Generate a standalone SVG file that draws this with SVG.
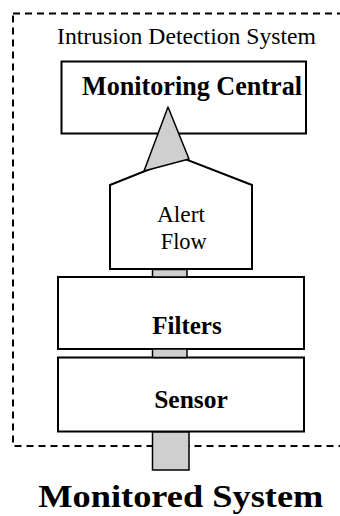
<svg xmlns="http://www.w3.org/2000/svg" width="340" height="516" viewBox="0 0 340 516">
<defs>
<style>
.box{fill:#fff;stroke:#000;stroke-width:2}
.link{fill:#cfcfcf;stroke:#000;stroke-width:1.5}
text{fill:#000;font-style:normal}
.reg{font-family:"Times New Roman","Liberation Serif","DejaVu Serif",serif;font-weight:400}
.bold{font-family:"Liberation Serif","Times New Roman","DejaVu Serif",serif;font-weight:700}
</style>
</defs>
<rect x="0" y="0" width="340" height="516" fill="#fff"/>
<g id="ids-boundary">
<rect x="13" y="13.5" width="340" height="432.5" fill="none" stroke="#000" stroke-width="2" stroke-dasharray="7 5"/>
<text class="reg" x="57" y="44.3" font-size="23.5" textLength="259" lengthAdjust="spacingAndGlyphs">Intrusion Detection System</text>
</g>
<g id="monitoring-central">
<rect class="box" x="61.5" y="61.5" width="244.5" height="72"/>
<text class="bold" x="82" y="95" font-size="26.5" textLength="220" lengthAdjust="spacingAndGlyphs">Monitoring Central</text>
</g>
<g id="alert-flow">
<polygon class="box" points="110,185 180,157 252,185 252,269 110,269"/>
<text class="reg" x="157" y="221.7" font-size="23" textLength="48" lengthAdjust="spacingAndGlyphs">Alert</text>
<text class="reg" x="160.7" y="249" font-size="23" textLength="46" lengthAdjust="spacingAndGlyphs">Flow</text>
</g>
<g id="filters">
<rect class="box" x="58" y="277" width="246" height="72"/>
<text class="bold" x="187" y="334" font-size="25" text-anchor="middle">Filters</text>
</g>
<g id="sensor">
<rect class="box" x="58" y="357.5" width="246" height="74"/>
<text class="bold" x="191" y="408.3" font-size="25.5" text-anchor="middle">Sensor</text>
</g>
<g id="connectors">
<polygon class="link" stroke-width="2" stroke-linejoin="round" points="168,107 144,171 189,159"/>
<rect class="link" x="152.5" y="269.5" width="34.5" height="7.5"/>
<rect class="link" x="152.5" y="349" width="34.5" height="8.5"/>
<rect class="link" stroke-width="2" x="152.5" y="432" width="36.5" height="38"/>
</g>
<g id="monitored-system">
<text class="bold" x="38.3" y="506.5" font-size="30.5" textLength="285" lengthAdjust="spacingAndGlyphs">Monitored System</text>
</g>
</svg>
